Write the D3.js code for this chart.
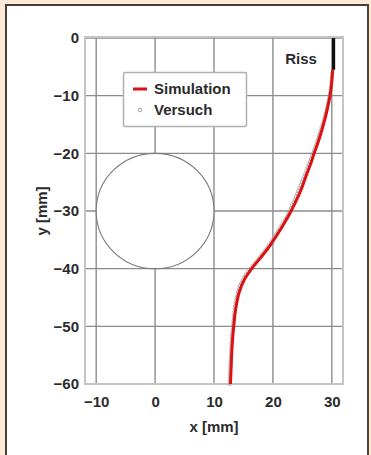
<!DOCTYPE html>
<html><head><meta charset="utf-8">
<script src="https://cdn.jsdelivr.net/npm/d3@7"></script>
<style>html,body{margin:0;padding:0;background:#fdebd8;}svg{display:block;}</style>
</head><body>
<script>
// ---- data ----
const xTicks = [-10, 0, 10, 20, 30];
const yTicks = [0, -10, -20, -30, -40, -50, -60];
const simX = [30.15, 29.95, 29.7, 29.3, 28.85, 28.3, 27.7, 27.0, 26.35, 25.6, 24.9, 24.05, 23.1, 22.0, 20.8, 19.5, 18.0, 16.4, 15.1, 14.3, 13.85, 13.55, 13.35, 13.1, 12.95, 12.8];
const simY = [-5.5, -8, -10, -12, -14, -16, -18, -20, -22, -24, -26, -28, -30, -32, -34, -36, -38, -40, -42, -44, -46, -48, -50, -53, -56, -60];
const expX = [30.1, 30.05, 30.0, 29.95, 29.9, 29.85, 29.8, 29.7, 29.6, 29.5, 29.4, 29.3, 29.2, 29.1, 28.95, 28.85, 28.7, 28.55, 28.4, 28.25, 28.1, 27.95, 27.8, 27.65, 27.5, 27.3, 27.15, 26.95, 26.8, 26.6, 26.45, 26.25, 26.05, 25.85, 25.7, 25.5, 25.3, 25.1, 24.9, 24.7, 24.5, 24.3, 24.1, 23.9, 23.7, 23.5, 23.25, 23.05, 22.85, 22.6, 22.35, 22.05, 21.75, 21.45, 21.15, 20.85, 20.55, 20.25, 19.9, 19.6, 19.25, 18.9, 18.55, 18.15, 17.75, 17.35, 16.95, 16.55, 16.15, 15.75, 15.4, 15.1, 14.85, 14.6, 14.4, 14.2, 14.05, 13.95, 13.85, 13.75, 13.65, 13.55, 13.5, 13.45, 13.4, 13.35, 13.3, 13.25, 13.2, 13.15, 13.1, 13.05, 13.0, 12.98, 12.95, 12.92, 12.9, 12.88, 12.85, 12.83, 12.8, 12.78, 12.75, 12.73, 12.7, 12.7, 12.68, 12.66, 12.65];
const expY = [-6, -6.5, -7, -7.5, -8, -8.5, -9, -9.5, -10, -10.5, -11, -11.5, -12, -12.5, -13, -13.5, -14, -14.5, -15, -15.5, -16, -16.5, -17, -17.5, -18, -18.5, -19, -19.5, -20, -20.5, -21, -21.5, -22, -22.5, -23, -23.5, -24, -24.5, -25, -25.5, -26, -26.5, -27, -27.5, -28, -28.5, -29, -29.5, -30, -30.5, -31, -31.5, -32, -32.5, -33, -33.5, -34, -34.5, -35, -35.5, -36, -36.5, -37, -37.5, -38, -38.5, -39, -39.5, -40, -40.5, -41, -41.5, -42, -42.5, -43, -43.5, -44, -44.5, -45, -45.5, -46, -46.5, -47, -47.5, -48, -48.5, -49, -49.5, -50, -50.5, -51, -51.5, -52, -52.5, -53, -53.5, -54, -54.5, -55, -55.5, -56, -56.5, -57, -57.5, -58, -58.5, -59, -59.5, -60];
const crackX = [30.3, 30.3];
const crackY = [0, -5.5];
const holeCenter = [0, -30];
const holeRadius = 10;
const legendLabels = ["Simulation", "Versuch"];
const crackLabel = "Riss";
const xTitle = "x [mm]";
const yTitle = "y [mm]";

// ---- drawing ----
const W = 371, H = 455;
const svg = d3.select("body").append("svg").attr("width", W).attr("height", H);
const font = "'Liberation Sans', Arial, sans-serif";
const txt = "#2b2b2b";

svg.append("rect").attr("x", 0).attr("y", 0).attr("width", W).attr("height", H).attr("fill", "#fdebd8");
svg.append("rect").attr("x", 6).attr("y", 5).attr("width", 362).attr("height", 470)
  .attr("fill", "#fff").attr("stroke", "#4b3f36").attr("stroke-width", 2);

const x = d3.scaleLinear().domain([-11.9, 31.9]).range([85, 343]);
const y = d3.scaleLinear().domain([-60, 0]).range([384, 38]);

const g = svg.append("g");
// grid
g.selectAll(".vg").data(xTicks).join("line")
  .attr("x1", d => x(d)).attr("x2", d => x(d)).attr("y1", y(0)).attr("y2", y(-60))
  .attr("stroke", "#8c8c8c").attr("stroke-width", 1.4);
g.selectAll(".hg").data(yTicks).join("line")
  .attr("y1", d => y(d)).attr("y2", d => y(d)).attr("x1", x(-11.9)).attr("x2", x(31.9))
  .attr("stroke", "#8c8c8c").attr("stroke-width", 1.4);
// frame
g.append("rect").attr("x", x(-11.9)).attr("y", y(0) - 1).attr("width", x(31.9) - x(-11.9)).attr("height", y(-60) - y(0) + 1)
  .attr("fill", "none").attr("stroke", "#c4c4c4").attr("stroke-width", 2);

// hole
g.append("ellipse").attr("cx", x(holeCenter[0])).attr("cy", y(holeCenter[1]))
  .attr("rx", x(holeRadius) - x(0)).attr("ry", y(-holeRadius) - y(0))
  .attr("fill", "#fff").attr("stroke", "#7a7a7a").attr("stroke-width", 1.1);

// axes tick labels
const xAxis = d3.axisBottom(x).tickValues(xTicks).tickSize(0).tickPadding(12).tickFormat(d3.format("d"));
const ax = svg.append("g").attr("transform", `translate(0,${y(-60)})`).call(xAxis);
ax.select(".domain").remove();
ax.selectAll("text").attr("font-family", font).attr("font-weight", "bold").attr("font-size", 15).attr("fill", txt)
  .text(d => d < 0 ? "\u2212" + Math.abs(d) : d);
const yAxis = d3.axisLeft(y).tickValues(yTicks).tickSize(0).tickPadding(6);
const ay = svg.append("g").attr("transform", `translate(${x(-11.9)},0)`).call(yAxis);
ay.select(".domain").remove();
ay.selectAll("text").attr("font-family", font).attr("font-weight", "bold").attr("font-size", 15).attr("fill", txt)
  .text(d => d < 0 ? "\u2212" + Math.abs(d) : d);

svg.append("text").attr("x", 214).attr("y", 432).attr("text-anchor", "middle")
  .attr("font-family", font).attr("font-weight", "bold").attr("font-size", 15).attr("fill", txt).text(xTitle);
svg.append("text").attr("transform", "translate(47,211) rotate(-90)").attr("text-anchor", "middle")
  .attr("font-family", font).attr("font-weight", "bold").attr("font-size", 15).attr("fill", txt).text(yTitle);

// experiment points
const expPts = expX.map((v, i) => [v, expY[i]]);
g.selectAll(".ep").data(expPts).join("circle")
  .attr("cx", d => x(d[0])).attr("cy", d => y(d[1])).attr("r", 1.5)
  .attr("fill", "none").attr("stroke", "#a0a0a0").attr("stroke-width", 0.9);

// simulation line
const simPts = simX.map((v, i) => [v, simY[i]]);
g.append("path").datum(simPts)
  .attr("d", d3.line().x(d => x(d[0])).y(d => y(d[1])).curve(d3.curveCatmullRom))
  .attr("fill", "none").attr("stroke", "#dd1111").attr("stroke-width", 3);

// crack
g.append("line").attr("x1", x(crackX[0])).attr("x2", x(crackX[1])).attr("y1", y(crackY[0])).attr("y2", y(crackY[1]))
  .attr("stroke", "#111").attr("stroke-width", 3.2);
svg.append("text").attr("x", 301).attr("y", 64).attr("text-anchor", "middle")
  .attr("font-family", font).attr("font-weight", "bold").attr("font-size", 15).attr("fill", txt).text(crackLabel);

// legend
const lg = svg.append("g");
lg.append("rect").attr("x", 123.5).attr("y", 72.5).attr("width", 123).attr("height", 54).attr("rx", 1.5)
  .attr("fill", "#fff").attr("stroke", "#b0b0b0").attr("stroke-width", 1.5);
lg.append("line").attr("x1", 133).attr("x2", 147).attr("y1", 89).attr("y2", 89).attr("stroke", "#dd1111").attr("stroke-width", 3);
lg.append("circle").attr("cx", 140).attr("cy", 110).attr("r", 1.8).attr("fill", "none").attr("stroke", "#9a9a9a").attr("stroke-width", 1);
lg.selectAll(".lt").data(legendLabels).join("text")
  .attr("x", 154).attr("y", (d, i) => 94 + i * 21)
  .attr("font-family", font).attr("font-weight", "bold").attr("font-size", 15).attr("fill", txt).text(d => d);
</script>
</body></html>
